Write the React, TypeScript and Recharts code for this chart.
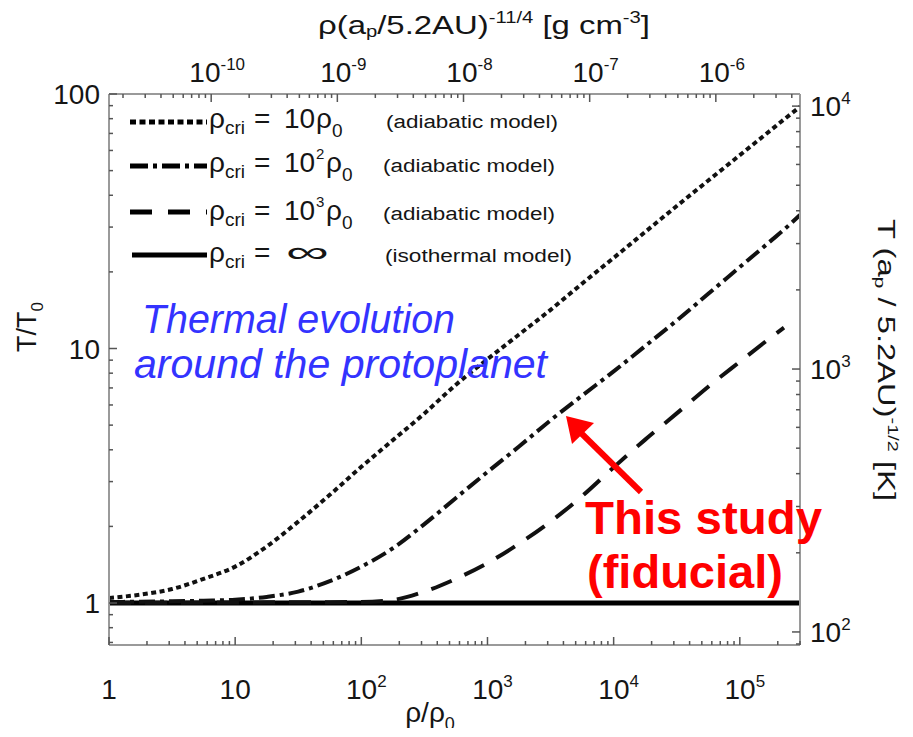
import React from "react";
import { LineChart, Line, XAxis, YAxis, Legend } from "recharts";

// density rho/rho0, sampled every quarter decade up to the right frame
const RHO = [1, 1.778, 3.162, 5.623, 10, 17.78, 31.62, 56.23, 100, 177.8, 316.2, 562.3, 1000, 1778, 3162, 5623, 10000, 17783, 31623, 56234, 100000, 177828, 223872, 300000];

// T/T0
const T_CRI_10 = [1.047, 1.079, 1.135, 1.245, 1.39, 1.667, 2.089, 2.661, 3.428, 4.365, 5.559, 7.21, 9.08, 11.35, 14.19, 17.99, 22.7, 28.7, 36.3, 45.7, 57.5, 72.4, 79.4, 89.1];
const T_CRI_100 = [1.009, 1.012, 1.016, 1.021, 1.03, 1.057, 1.109, 1.219, 1.39, 1.641, 2.042, 2.588, 3.273, 4.121, 5.224, 6.531, 8.128, 10.23, 12.88, 16.41, 20.89, 26.6, 29.3, 33.5];
const T_CRI_1000 = [1.002, 1.003, 1.003, 1.004, 1.005, 1.006, 1.007, 1.008, 1.009, 1.028, 1.109, 1.245, 1.435, 1.71, 2.089, 2.63, 3.412, 4.385, 5.559, 7.079, 8.872, 11.09, 12.08, null];
const T_ISO = [1, 1, 1, 1, 1, 1, 1, 1, 1, 1, 1, 1, 1, 1, 1, 1, 1, 1, 1, 1, 1, 1, 1, 1];

// rho/rho0 -> rho (a_p/5.2AU)^-11/4 in g cm^-3, as the top axis shows it
const RHO_CGS_PER_RHO = 1.549e-11;

// axis ranges (bottom / top / left / right)
const RHO_RANGE = [1, 300000];
const RHO_CGS_RANGE = [1.549e-11, 4.647e-6];
const TT0_RANGE = [0.684, 100];
const TK_RANGE = [89.2, 11120];

const W = 897;
const H = 720;
const FONT = "'Liberation Sans', Arial, sans-serif";
const INK = "#151515";
const FRAME = "#9a9a9a";

const data = RHO.map((rho, i) => ({
  rho,
  rhoCgs: rho * RHO_CGS_PER_RHO,
  cri10: T_CRI_10[i],
  cri100: T_CRI_100[i],
  cri1000: T_CRI_1000[i],
  iso: T_ISO[i],
}));

// 1..9 x 10^n inside a range, for major + minor tick marks
const logTicks = (range: number[]) => {
  const out: number[] = [];
  const lo = Math.floor(Math.log10(range[0]));
  const hi = Math.ceil(Math.log10(range[1]));
  for (let d = lo; d <= hi; d++) {
    for (let k = 1; k <= 9; k++) {
      const v = Number((k * Math.pow(10, d)).toPrecision(6));
      if (v >= range[0] * 0.9999 && v <= range[1] * 1.0001) out.push(v);
    }
  }
  return out;
};

const makeTick = (side: string) => (props: any) => {
  const { x, y, payload } = props;
  const v = payload.value;
  const e = Math.round(Math.log10(v));
  const major = Math.abs(v / Math.pow(10, e) - 1) < 1e-6;
  const len = major ? 8 : 4;
  let mark;
  if (side === "bottom") mark = <line x1={x} x2={x} y1={y} y2={y - len} />;
  else if (side === "top") mark = <line x1={x} x2={x} y1={y} y2={y + len} />;
  else if (side === "left") mark = <line x1={x} x2={x + len} y1={y} y2={y} />;
  else mark = <line x1={x} x2={x - len} y1={y} y2={y} />;

  let label = null;
  if (major) {
    const plain = side === "left" || (side === "bottom" && e < 2);
    const txt = plain ? (
      String(v)
    ) : (
      <>
        <tspan>10</tspan>
        <tspan dy={-12} fontSize={17}>{String(e)}</tspan>
      </>
    );
    if (side === "bottom")
      label = <text x={x + (plain ? 0 : 5)} y={y + 54} textAnchor="middle">{txt}</text>;
    else if (side === "top")
      label = <text x={x + 6} y={y - 12} textAnchor="middle">{txt}</text>;
    else if (side === "left")
      label = <text x={x - 9} y={y + 10} textAnchor="end">{txt}</text>;
    else label = <text x={x + 10} y={y + 10} textAnchor="start">{txt}</text>;
  }
  return (
    <g>
      <g stroke="#555" strokeWidth={1.5}>{mark}</g>
      <g fill={INK} fontFamily={FONT} fontSize={28} stroke="none">{label}</g>
    </g>
  );
};

const SERIES = [
  { key: "cri10", dash: "5 3.5", exp: "", legendDash: "6 3.5" },
  { key: "cri100", dash: "16 5 4 5", exp: "2", legendDash: "18 5 4 5" },
  { key: "cri1000", dash: "22 14", exp: "3", legendDash: "22 16" },
];

const LegendBox = () => {
  // coordinates relative to the wrapper placed at page (120, 100)
  const rows = [28, 72, 120, 162];
  const samples = [22, 66, 112, 155];
  const t = { fill: INK, fontFamily: FONT } as const;
  return (
    <svg width={470} height={180}>
      {SERIES.map((s, i) => (
        <line key={s.key} x1={10} x2={87} y1={samples[i]} y2={samples[i]} stroke="#000" strokeWidth={5} strokeDasharray={s.legendDash} />
      ))}
      <line x1={12} x2={87} y1={samples[3]} y2={samples[3]} stroke="#000" strokeWidth={5} />
      {rows.map((by, i) => (
        <g key={i} {...t}>
          <text x={89} y={by} fontSize={28}>ρ</text>
          <text x={105} y={by + 6} fontSize={19}>cri</text>
          <text x={134} y={by} fontSize={28}>=</text>
          {i < 3 ? (
            <>
              <text x={164} y={by} fontSize={28}>10</text>
              {i > 0 && <text x={196} y={by - 13} fontSize={15}>{SERIES[i].exp}</text>}
              <text x={i === 0 ? 196 : 206} y={by} fontSize={28}>ρ</text>
              <text x={i === 0 ? 212 : 222} y={by + 9} fontSize={19}>0</text>
              <text x={i === 0 ? 266 : 263} y={by} fontSize={18} textLength={172} lengthAdjust="spacingAndGlyphs">(adiabatic model)</text>
            </>
          ) : (
            <>
              <text x={166} y={by} fontSize={30} textLength={43} lengthAdjust="spacingAndGlyphs">∞</text>
              <text x={265} y={by} fontSize={18} textLength={187} lengthAdjust="spacingAndGlyphs">(isothermal model)</text>
            </>
          )}
        </g>
      ))}
    </svg>
  );
};

const App = () => {
  const axisLine = { stroke: FRAME, strokeWidth: 2 };
  return (
    <div style={{ position: "relative", width: W, height: H }}>
      <LineChart width={W} height={H} data={data} margin={{ top: 56, right: 45, bottom: 53, left: 41 }}>
        <XAxis xAxisId="bottom" dataKey="rho" type="number" scale="log" domain={RHO_RANGE} allowDataOverflow
          ticks={logTicks(RHO_RANGE)} interval={0} tick={makeTick("bottom")} tickLine={false} tickSize={0} tickMargin={0}
          axisLine={axisLine} height={30} />
        <XAxis xAxisId="top" dataKey="rhoCgs" orientation="top" type="number" scale="log" domain={RHO_CGS_RANGE} allowDataOverflow
          ticks={logTicks(RHO_CGS_RANGE)} interval={0} tick={makeTick("top")} tickLine={false} tickSize={0} tickMargin={0}
          axisLine={axisLine} height={30} />
        <YAxis yAxisId="left" type="number" scale="log" domain={TT0_RANGE} allowDataOverflow
          ticks={logTicks(TT0_RANGE)} interval={0} tick={makeTick("left")} tickLine={false} tickSize={0} tickMargin={0}
          axisLine={axisLine} width={60} />
        <YAxis yAxisId="right" orientation="right" type="number" scale="log" domain={TK_RANGE} allowDataOverflow
          ticks={logTicks(TK_RANGE)} interval={0} tick={makeTick("right")} tickLine={false} tickSize={0} tickMargin={0}
          axisLine={axisLine} width={60} />
        <Legend layout="vertical" align="center" verticalAlign="middle" content={<LegendBox />}
          wrapperStyle={{ left: 112, top: 92, width: 470, height: 180 }} />
        {/* invisible series that ties the top density axis to the data */}
        <Line xAxisId="top" yAxisId="left" dataKey="iso" stroke="none" strokeWidth={0} dot={false} legendType="none" isAnimationActive={false} />
        <Line xAxisId="bottom" yAxisId="left" dataKey="iso" type="monotone" stroke="#000" strokeWidth={5} dot={false} isAnimationActive={false} />
        {SERIES.map((s) => (
          <Line key={s.key} xAxisId="bottom" yAxisId="left" dataKey={s.key} type="monotone" stroke="#111"
            strokeWidth={4} strokeDasharray={s.dash} dot={false} isAnimationActive={false} />
        ))}
      </LineChart>
      <svg width={913} height={737} style={{ position: "absolute", left: -8, top: -8, pointerEvents: "none" }}>
        <g fill={INK} fontFamily={FONT}>
          <text x={318} y={34} fontSize={26} textLength={332} lengthAdjust="spacingAndGlyphs">
            ρ(a<tspan fontSize={16} dy={3}>p</tspan><tspan dy={-3}>/5.2AU)</tspan><tspan fontSize={16} dy={-11}>-11/4</tspan><tspan dy={11}> [g cm</tspan><tspan fontSize={16} dy={-11}>-3</tspan><tspan dy={11}>]</tspan>
          </text>
          <text x={430} y={722} fontSize={28} textAnchor="middle">
            ρ/ρ<tspan fontSize={18} dy={8}>0</tspan>
          </text>
          <text transform="translate(36 327) rotate(-90)" fontSize={27} textAnchor="middle">
            T/T<tspan fontSize={17} dy={7}>0</tspan>
          </text>
          <text transform="translate(878 360) rotate(90)" fontSize={23} textAnchor="middle" textLength={282} lengthAdjust="spacingAndGlyphs">
            T (a<tspan fontSize={15} dy={3}>p</tspan><tspan dy={-3}> / 5.2AU)</tspan><tspan fontSize={14} dy={-10}>-1/2</tspan><tspan dy={10}> [K]</tspan>
          </text>
        </g>
        <g fill="#3333ff" fontFamily={FONT} fontStyle="italic" fontSize={40}>
          <text x={142} y={333} textLength={313} lengthAdjust="spacingAndGlyphs">Thermal evolution</text>
          <text x={134} y={378} textLength={413} lengthAdjust="spacingAndGlyphs">around the protoplanet</text>
        </g>
        <g fill="#ff0000" fontFamily={FONT} fontWeight="bold" fontSize={46}>
          <text x={585} y={534} textLength={237} lengthAdjust="spacingAndGlyphs">This study</text>
          <text x={587} y={588} textLength={196} lengthAdjust="spacingAndGlyphs">(fiducial)</text>
        </g>
        <line x1={641} y1={492} x2={579} y2={431} stroke="#ff0000" strokeWidth={6} />
        <polygon points="566,416 572,444 594,423" fill="#ff0000" />
      </svg>
    </div>
  );
};

export default App;
